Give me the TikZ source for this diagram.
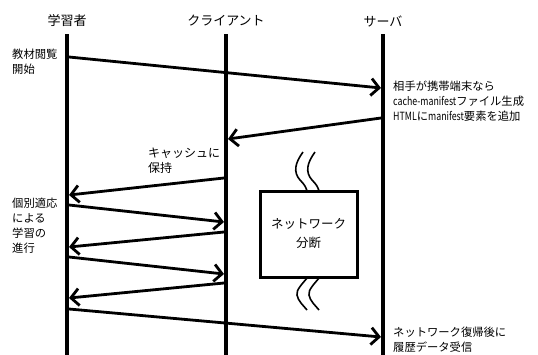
\documentclass[tikz,border=0pt]{standalone}
\usepackage{fontspec}
\setmainfont{Noto Sans CJK JP}
\newfontfamily\latn[FakeStretch=0.78]{Noto Sans CJK JP}
\usetikzlibrary{arrows.meta}
\begin{document}
\begin{tikzpicture}[x=1pt,y=-1pt,
  lifeline/.style={line width=4pt},
  msg/.style={line width=2.8pt,-{Straight Barb[length=8pt,width=17pt]}},
  head/.style={font=\fontsize{13}{15}\selectfont, inner sep=0pt},
  lbl/.style={font=\fontsize{11.3}{15}\selectfont, align=left, anchor=west, inner sep=0pt},
  boxn/.style={draw, line width=3pt, minimum width=97pt, minimum height=86pt, font=\fontsize{12.5}{19}\selectfont, align=center, inner sep=0pt},
  wave/.style={line width=1.6pt}
]
\useasboundingbox (0,0) rectangle (538,354);
% headers
\node[head] (hL) at (67,21) {学習者};
\node[head] (hC) at (226,21) {クライアント};
\node[head] (hS) at (383,21) {サーバ};
% lifelines
\coordinate (Lt) at (67,34); \coordinate (Lb) at (67,356);
\coordinate (Ct) at (226,34); \coordinate (Cb) at (226,356);
\coordinate (St) at (383,34); \coordinate (Sb) at (383,356);
\draw[lifeline] (Lt) -- (Lb);
\draw[lifeline] (Ct) -- (Cb);
\draw[lifeline] (St) -- (Sb);
% message end points
\coordinate (m1a) at (69,57);  \coordinate (m1b) at (381,88);
\coordinate (m2a) at (381,118); \coordinate (m2b) at (228,139);
\coordinate (m3a) at (224,178); \coordinate (m3b) at (69,195);
\coordinate (m4a) at (69,205);  \coordinate (m4b) at (224,222);
\coordinate (m5a) at (224,232); \coordinate (m5b) at (69,247);
\coordinate (m6a) at (69,257);  \coordinate (m6b) at (224,274);
\coordinate (m7a) at (224,283); \coordinate (m7b) at (69,298);
\coordinate (m8a) at (69,309);  \coordinate (m8b) at (381,337);
\draw[msg] (m1a) -- (m1b);
\draw[msg] (m2a) -- (m2b);
\draw[msg] (m3a) -- (m3b);
\draw[msg] (m4a) -- (m4b);
\draw[msg] (m5a) -- (m5b);
\draw[msg] (m6a) -- (m6b);
\draw[msg] (m7a) -- (m7b);
\draw[msg] (m8a) -- (m8b);
% labels
\node[lbl] (t1) at (12,62) {教材閲覧\\開始};
\node[lbl] (t2) at (393,101) {相手が携帯端末なら\\{\latn cache-manifest}ファイル生成\\{\latn HTML}に{\latn manifest}要素を追加};
\node[lbl, font=\fontsize{12}{15}\selectfont] (t3) at (148,160.5) {キャッシュに\\保持};
\node[lbl] (t4) at (12,225.5) {個別適応\\による\\学習の\\進行};
\node[lbl] (t5) at (393,339.5) {ネットワーク復帰後に\\履歴データ受信};
% network box
\node[boxn] (box) at (308.5,234) {ネットワーク\\分断};
% waves
\foreach \dx in {0,12}{
  \draw[wave] (303+\dx,152) .. controls (295+\dx,163) and (293+\dx,172) .. (300+\dx,180) .. controls (304+\dx,184) and (306+\dx,187) .. (307+\dx,191);
  \draw[wave] (308+\dx,277) .. controls (302+\dx,284) and (296+\dx,290) .. (297+\dx,295) .. controls (298+\dx,301) and (303+\dx,305) .. (307+\dx,310);
}
\end{tikzpicture}
\end{document}
